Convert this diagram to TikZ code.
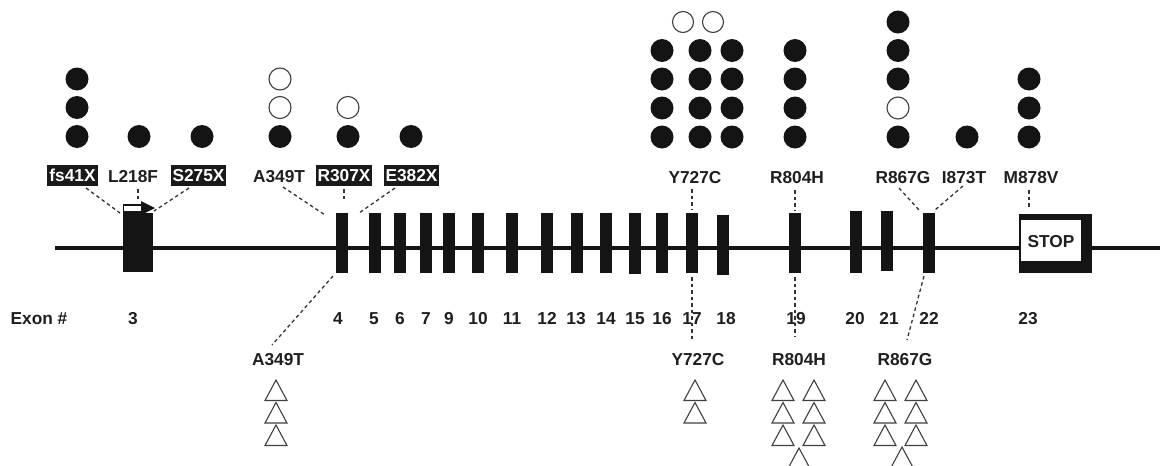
\documentclass[tikz,border=0pt]{standalone}
\usepackage{fontspec}
\setmainfont{Liberation Sans}
\begin{document}
\begin{tikzpicture}[x=1pt,y=-1pt,
  lbl/.style={font=\bfseries\fontsize{17.3}{19}\selectfont, text=black!88, inner sep=0pt, text height=12.4pt, text depth=0pt, anchor=center},
  blk/.style={font=\bfseries\fontsize{17.3}{19}\selectfont, text=white, fill=black!90, inner xsep=2pt, inner ysep=0pt, text height=12.4pt, text depth=0pt, minimum height=21pt, anchor=center},
  exon/.style={fill=black!92, draw=none, inner sep=0pt, minimum width=12pt, minimum height=60pt, anchor=north west},
  conn/.style={draw=black!80, line width=1.3pt, dash pattern=on 3.5pt off 3pt},
  fdot/.style={fill=black!92},
  odot/.style={draw=black!75, fill=white, line width=1.1pt},
  tri/.style={draw=black!75, line width=1.1pt, line join=miter, fill=white}]
\useasboundingbox (0,0) rectangle (1160,466);
\fill[white] (0,0) rectangle (1160,466);
% gene backbone
\draw[line width=3.5pt, black!92] (55,248) -- (1160,248);
% exons
\node[exon, minimum width=30pt, minimum height=59pt] (e3) at (123,213) {};
\foreach \n/\xx/\yy/\hh in {4/336/213/60, 5/369/213/60, 6/394/213/60, 7/420/213/60, 9/443/213/60, 10/472/213/60, 11/506/213/60, 12/541/213/60, 13/571/213/60, 14/600/213/60, 15/629/213/61, 16/656/213/60, 17/686/213/60, 18/717/215/60, 19/789/213/60, 20/850/211/62, 21/881/211/60, 22/923/213/60}
  \node[exon, minimum height=\hh pt] (e\n) at (\xx,\yy) {};
% stop box (exon 23)
\node[fill=black!92, inner sep=0pt, minimum width=73pt, minimum height=59pt, anchor=north west] (e23) at (1019,214) {};
\fill[white] (1021,220) rectangle (1081,261);
\node[lbl] (stop) at (1051,241) {STOP};
% start arrow on exon 3
\draw[black!92, line width=1.3pt, fill=white] (123.5,205) rectangle (143,212);
\fill[black!92] (141,201) -- (155,208) -- (141,215) -- cycle;

% exon numbers
\node[lbl] (exlab) at (39,318) {Exon \#};
\foreach \n/\xx in {3/133, 4/338, 5/374, 6/400, 7/426, 9/449, 10/478, 11/512, 12/547, 13/576, 14/606, 15/635, 16/662, 17/692, 18/726, 19/796, 20/855, 21/889, 22/929, 23/1028}
  \node[lbl] (n\n) at (\xx,318) {\n};

% top mutation labels
\node[blk] (fs41X) at (72.5,175) {fs41X};
\node[lbl] (L218F) at (133,176) {L218F};
\node[blk] (S275X) at (198.5,175) {S275X};
\node[lbl] (A349Tt) at (279,176) {A349T};
\node[blk] (R307X) at (344,175) {R307X};
\node[blk] (E382X) at (411.5,175) {E382X};
\node[lbl] (Y727Ct) at (695,177) {Y727C};
\node[lbl] (R804Ht) at (797,177) {R804H};
\node[lbl] (R867Gt) at (903,177) {R867G};
\node[lbl] (I873T) at (964,177) {I873T};
\node[lbl] (M878V) at (1031,177) {M878V};

% bottom mutation labels
\node[lbl] (A349Tb) at (278,359) {A349T};
\node[lbl] (Y727Cb) at (698,359) {Y727C};
\node[lbl] (R804Hb) at (799,359) {R804H};
\node[lbl] (R867Gb) at (905,359) {R867G};

% connector end points
\coordinate (c1a) at (86,188);  \coordinate (c1b) at (120,213);
\coordinate (c2a) at (138,189); \coordinate (c2b) at (138,199);
\coordinate (c3a) at (189,188); \coordinate (c3b) at (154,211);
\coordinate (c4a) at (283,187); \coordinate (c4b) at (325,215);
\coordinate (c5a) at (344,189); \coordinate (c5b) at (344,202);
\coordinate (c6a) at (395,188); \coordinate (c6b) at (359,213);
\coordinate (c7a) at (692,189); \coordinate (c7b) at (692,210);
\coordinate (c8a) at (795,190); \coordinate (c8b) at (795,210);
\coordinate (c9a) at (899,188); \coordinate (c9b) at (919,210);
\coordinate (c10a) at (963,186); \coordinate (c10b) at (935,210);
\coordinate (c11a) at (1029,190); \coordinate (c11b) at (1029,207);
\coordinate (d1a) at (333,276); \coordinate (d1b) at (272,345);
\coordinate (d2a) at (692,277); \coordinate (d2b) at (692,340);
\coordinate (d3a) at (795,277); \coordinate (d3b) at (795,337);
\coordinate (d4a) at (924,276); \coordinate (d4b) at (907,340);
\foreach \c in {c1,c2,c3,c4,c5,c6,c7,c8,c9,c10,c11,d1,d2,d3,d4}
  \draw[conn] (\c a) -- (\c b);

% patient circles (families)
\def\rr{11.5}
\foreach \xx/\yy in {77/79, 77/107.5, 77/136.5, 139/136.5, 202/136.5, 280/136.5, 348/136.5, 411/136.5,
  662/50.5, 662/79, 662/108, 662/137, 700/50.5, 700/79, 700/108, 700/137, 732/50.5, 732/79, 732/108, 732/137,
  795/50.5, 795/79, 795/108, 795/137, 898/22, 898/50.5, 898/79, 898/137, 967/137, 1029/79, 1029/108, 1029/137}
  \fill[fdot] (\xx,\yy) circle[radius=\rr];
\foreach \xx/\yy in {280/79, 280/107.5, 348/107.5, 898/108}
  \draw[odot] (\xx,\yy) circle[radius=11];
\foreach \xx/\yy in {683/22, 713/22}
  \draw[odot] (\xx,\yy) circle[radius=10.5];

% triangles
\foreach \xx/\yy in {276/380, 276/402.5, 276/425, 695/380, 695/402.5,
  783/380, 783/402.5, 783/425, 814/380, 814/402.5, 814/425, 799/448,
  885/380, 885/402.5, 885/425, 916/380, 916/402.5, 916/425, 902/447}
  \draw[tri] (\xx-11,\yy+20.5) -- (\xx,\yy) -- (\xx+11,\yy+20.5) -- cycle;
\end{tikzpicture}
\end{document}
